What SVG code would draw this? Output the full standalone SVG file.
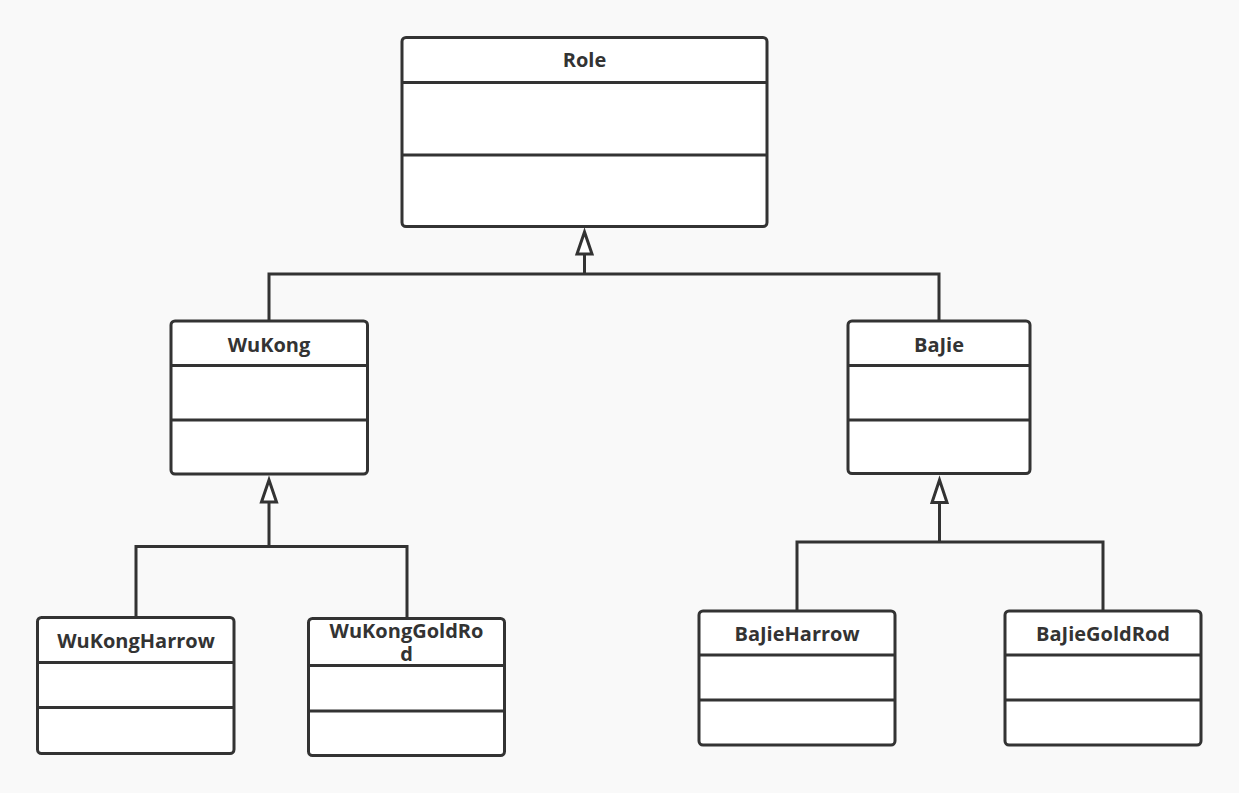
<svg xmlns="http://www.w3.org/2000/svg" width="1239" height="793" viewBox="0 0 1239 793">
<defs>
<style>
.box{fill:#fff;stroke:#333;stroke-width:3}
.div{stroke:#333;stroke-width:3;fill:none}
.t{font-family:"Open Sans","Noto Sans",sans-serif;font-weight:bold;font-size:20px;fill:#333;text-anchor:middle}
.c{stroke:#333;stroke-width:3;fill:none}
.ah{fill:#fff;stroke:#333;stroke-width:3;stroke-linejoin:miter}
</style>
</defs>
<rect width="1239" height="793" fill="#f9f9f9"/>
<g id="connectors">
<path class="c" d="M269 321V274H939V321"/>
<path class="c" d="M584.5 274V254"/>
<polygon class="ah" points="584.5,232 577,254 592,254"/>
<path class="c" d="M136 617V546.5H407V618"/>
<path class="c" d="M269 546.5V502"/>
<polygon class="ah" points="269,480 261.5,502 276.5,502"/>
<path class="c" d="M797 611V542H1103V611"/>
<path class="c" d="M939.5 542V502.5"/>
<polygon class="ah" points="939.5,480 932,502.5 947,502.5"/>
</g>
<g id="Role">
<rect class="box" x="402" y="37.5" width="365" height="189" rx="4"/>
<path class="div" d="M402 82.5H767M402 155H767"/>
<text class="t" x="584.5" y="67">Role</text>
</g>
<g id="WuKong">
<rect class="box" x="171" y="321" width="196.5" height="153" rx="4"/>
<path class="div" d="M171 365.5H367.5M171 420H367.5"/>
<text class="t" x="269" y="351.5">WuKong</text>
</g>
<g id="BaJie">
<rect class="box" x="848" y="321" width="182" height="152.5" rx="4"/>
<path class="div" d="M848 365.5H1030M848 420H1030"/>
<text class="t" x="939" y="351.5">BaJie</text>
</g>
<g id="WuKongHarrow">
<rect class="box" x="37.5" y="617.5" width="196.5" height="136" rx="4"/>
<path class="div" d="M37.5 662.5H234M37.5 707.5H234"/>
<text class="t" x="136" y="647.5">WuKongHarrow</text>
</g>
<g id="WuKongGoldRod">
<rect class="box" x="308.5" y="618.5" width="196" height="137" rx="4"/>
<path class="div" d="M308.5 665.5H504.5M308.5 711H504.5"/>
<text class="t" x="406.5" y="638">WuKongGoldRo<tspan x="406.5" y="661">d</tspan></text>
</g>
<g id="BaJieHarrow">
<rect class="box" x="699" y="611" width="196" height="134" rx="4"/>
<path class="div" d="M699 655H895M699 700H895"/>
<text class="t" x="797" y="641">BaJieHarrow</text>
</g>
<g id="BaJieGoldRod">
<rect class="box" x="1005" y="611" width="196" height="134" rx="4"/>
<path class="div" d="M1005 655H1201M1005 700H1201"/>
<text class="t" x="1103" y="641">BaJieGoldRod</text>
</g>
</svg>
